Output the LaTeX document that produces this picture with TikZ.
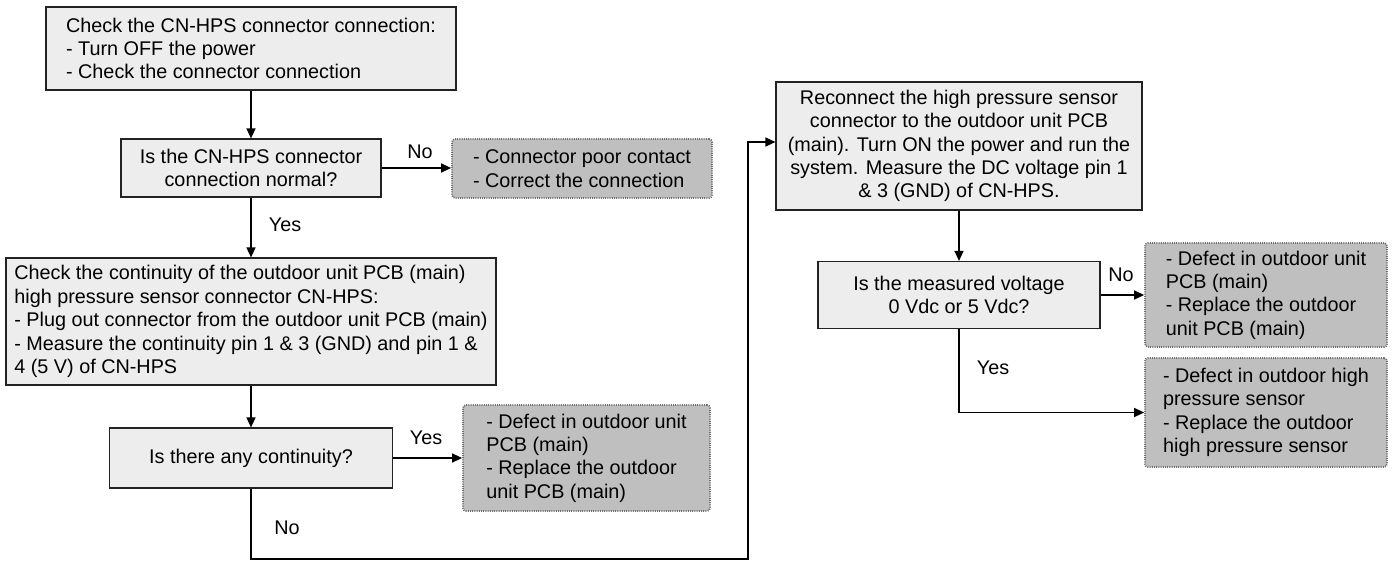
\documentclass[tikz,border=0pt]{standalone}
\usepackage{fontspec}
\setmainfont{Liberation Sans}
\usetikzlibrary{arrows.meta}
\definecolor{boxfill}{HTML}{EDEDED}
\definecolor{boxline}{HTML}{222222}
\definecolor{resfill}{HTML}{BFBFBF}
\definecolor{resline}{HTML}{707070}
\tikzset{
  txt/.style={font=\fontsize{9.9}{11.7}\selectfont},
  stepbox/.style={txt, draw=boxline, fill=boxfill, line width=0.6pt, inner sep=2pt},
  resbox/.style={txt, draw=resline, fill=resfill, line width=0.9pt,
     dash pattern=on 0.5pt off 0.6pt, rounded corners=1.5pt, inner sep=2pt, align=left},
  lbl/.style={txt, inner sep=0pt},
  arr/.style={line width=0.75pt, -{Triangle[length=5pt,width=4.5pt]}},
}
\begin{document}
\begin{tikzpicture}[x=0.5pt,y=-0.5pt]
\useasboundingbox (0,0) rectangle (1395,561);
% left column
\node[stepbox, align=left, minimum width=205pt, minimum height=41.5pt] (b1) at (251,48.5)
  {Check the CN-HPS connector connection:\\- Turn OFF the power\\- Check the connector connection};
\node[stepbox, align=center, minimum width=130pt, minimum height=29pt] (b2) at (251,168)
  {Is the CN-HPS connector\\connection normal?};
\node[resbox, minimum width=130pt, minimum height=29.5pt] (g1) at (582,168.5)
  {- Connector poor contact\\- Correct the connection};
\node[stepbox, align=left, minimum width=245pt, minimum height=63.5pt] (b3) at (251,321.5)
  {Check the continuity of the outdoor unit PCB (main)\\high pressure sensor connector CN-HPS:\\- Plug out connector from the outdoor unit PCB (main)\\- Measure the continuity pin 1 \& 3 (GND) and pin 1 \&\\4 (5 V) of CN-HPS};
\node[stepbox, align=center, minimum width=141.5pt, minimum height=30pt] (b4) at (251,458)
  {Is there any continuity?};
\node[resbox, minimum width=123.5pt, minimum height=53pt] (g2) at (586.5,458)
  {- Defect in outdoor unit\\PCB (main)\\- Replace the outdoor\\unit PCB (main)};
% right column
\node[stepbox, align=center, minimum width=183pt, minimum height=64pt] (b5) at (959,146)
  {Reconnect the high pressure sensor\\connector to the outdoor unit PCB\\(main). Turn ON the power and run the\\system. Measure the DC voltage pin 1\\\& 3 (GND) of CN-HPS.};
\node[stepbox, align=center, minimum width=141pt, minimum height=33.5pt] (b6) at (959,295)
  {Is the measured voltage\\0 Vdc or 5 Vdc?};
\node[resbox, minimum width=121pt, minimum height=52pt] (g3) at (1266,295)
  {- Defect in outdoor unit\\PCB (main)\\- Replace the outdoor\\unit PCB (main)};
\node[resbox, minimum width=121pt, minimum height=54.5pt] (g4) at (1266,412.5)
  {- Defect in outdoor high\\pressure sensor\\- Replace the outdoor\\high pressure sensor};
% labels
\node[lbl] (lno1) at (420,152) {No};
\node[lbl] (lyes1) at (285,225) {Yes};
\node[lbl] (lyes2) at (426,438) {Yes};
\node[lbl] (lno2) at (287,528) {No};
\node[lbl] (lno3) at (1121,275) {No};
\node[lbl] (lyes3) at (993,368) {Yes};
% route coordinates
\coordinate (c1) at (251,559);
\coordinate (c2) at (748,559);
\coordinate (c3) at (748,142);
% connectors
\draw[arr] (b1.south) -- (b2.north);
\draw[arr] (b2.east) -- (b2.east -| g1.west);
\draw[arr] (b2.south) -- (b3.north);
\draw[arr] (b3.south) -- (b4.north);
\draw[arr] (b4.east) -- (g2.west);
\draw[arr] (b4.south) -- (c1) -- (c2) -- (c3) -- (c3 -| b5.west);
\draw[arr] (b5.south) -- (b6.north);
\draw[arr] (b6.east) -- (g3.west);
\draw[arr] (b6.south) |- (g4.west);
\end{tikzpicture}
\end{document}
